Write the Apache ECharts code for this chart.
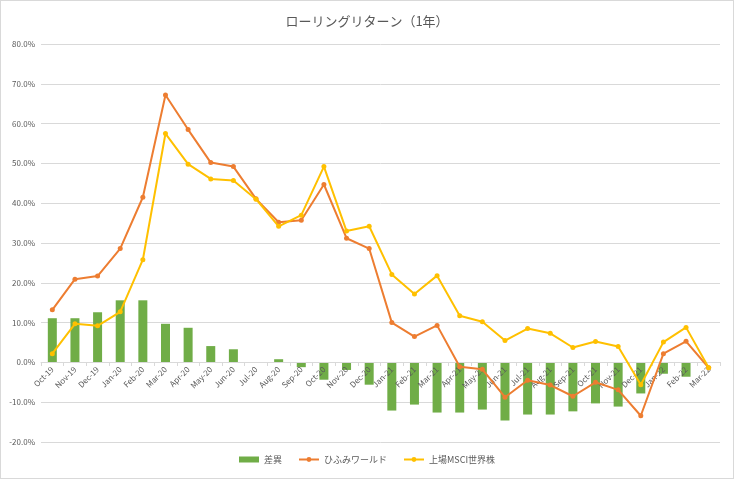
<!DOCTYPE html>
<html>
<head>
<meta charset="utf-8">
<script src="https://cdn.jsdelivr.net/npm/echarts@6/dist/echarts.min.js"></script>
<style>
  html, body { margin: 0; padding: 0; background: #fff; }
  #chart { width: 734px; height: 479px; box-sizing: border-box; border: 1px solid #d9d9d9; }
</style>
</head>
<body>
<div id="chart"></div>
<script>
// 1年ローリングリターン（%）
const months = ["Oct-19", "Nov-19", "Dec-19", "Jan-20", "Feb-20", "Mar-20", "Apr-20", "May-20", "Jun-20", "Jul-20",
  "Aug-20", "Sep-20", "Oct-20", "Nov-20", "Dec-20", "Jan-21", "Feb-21", "Mar-21", "Apr-21", "May-21",
  "Jun-21", "Jul-21", "Aug-21", "Sep-21", "Oct-21", "Nov-21", "Dec-21", "Jan-22", "Feb-22", "Mar-22"];

const hifumi = [13.2, 20.9, 21.7, 28.6, 41.5, 67.2, 58.5, 50.2, 49.2, 41.1,
  35.2, 35.7, 44.7, 31.2, 28.6, 10.0, 6.5, 9.3, -1.1, -1.75,
  -8.75, -4.5, -5.7, -8.5, -5.0, -6.9, -13.4, 2.2, 5.3, -1.35];

const msci = [2.2, 9.7, 9.2, 12.7, 25.8, 57.5, 49.8, 46.1, 45.7, 41.0,
  34.2, 37.0, 49.2, 33.0, 34.2, 22.1, 17.2, 21.8, 11.7, 10.2,
  5.5, 8.5, 7.3, 3.75, 5.25, 4.0, -5.6, 5.1, 8.8, -1.35];

const diff = [11.1, 11.1, 12.6, 15.6, 15.6, 9.7, 8.7, 4.1, 3.3, 0.1,
  0.8, -1.2, -4.35, -1.9, -5.6, -12.1, -10.6, -12.6, -12.6, -11.85,
  -14.6, -13.1, -13.1, -12.3, -10.3, -11.1, -7.8, -2.85, -3.6, 0.0];

const yTicks = { min: -20, max: 80, step: 10 };

const font = "'Noto Sans CJK JP', 'Noto Sans', sans-serif";
const el = document.getElementById("chart");
const chart = echarts.init(el);

// x軸を0%の位置まで持ち上げる
const gridTop = 43, gridBottom = 36;
const plotH = el.clientHeight + 2 - gridTop - gridBottom;
const zeroOffset = -plotH * (0 - yTicks.min) / (yTicks.max - yTicks.min);

chart.setOption({
  animation: false,
  textStyle: { fontFamily: font },
  title: {
    text: "ローリングリターン（1年）",
    left: "center",
    top: 9,
    textStyle: { fontSize: 13, fontWeight: "normal", color: "#595959", fontFamily: font }
  },
  legend: {
    bottom: 9,
    left: "center",
    itemWidth: 20,
    itemHeight: 6,
    itemGap: 16,
    textStyle: { fontSize: 9, color: "#595959" },
    data: [
      { name: "差異", icon: "rect" },
      { name: "ひふみワールド" },
      { name: "上場MSCI世界株" }
    ]
  },
  grid: { left: 40, right: 13, top: gridTop, bottom: gridBottom },
  xAxis: {
    type: "category",
    data: months,
    offset: zeroOffset,
    z: 5,
    axisLine: { onZero: false, lineStyle: { color: "#d9d9d9" } },
    axisTick: { show: true, length: 4, lineStyle: { color: "#d9d9d9" } },
    axisLabel: { rotate: 45, fontSize: 8, color: "#595959", interval: 0, margin: 6 },
    splitLine: { show: false }
  },
  yAxis: {
    type: "value",
    min: yTicks.min,
    max: yTicks.max,
    interval: yTicks.step,
    axisLabel: {
      fontSize: 8,
      color: "#595959",
      margin: 6,
      formatter: (v) => v.toFixed(1) + "%"
    },
    axisLine: { show: false },
    axisTick: { show: false },
    splitLine: { lineStyle: { color: "#d9d9d9" } }
  },
  series: [
    {
      name: "差異",
      type: "bar",
      data: diff,
      barWidth: 9,
      itemStyle: { color: "#70AD47" }
    },
    {
      name: "ひふみワールド",
      type: "line",
      data: hifumi,
      z: 6,
      symbol: "circle",
      symbolSize: 5,
      lineStyle: { width: 2, color: "#ED7D31" },
      itemStyle: { color: "#ED7D31" }
    },
    {
      name: "上場MSCI世界株",
      type: "line",
      data: msci,
      z: 7,
      symbol: "circle",
      symbolSize: 5,
      lineStyle: { width: 2, color: "#FFC000" },
      itemStyle: { color: "#FFC000" }
    }
  ]
});
</script>
</body>
</html>
